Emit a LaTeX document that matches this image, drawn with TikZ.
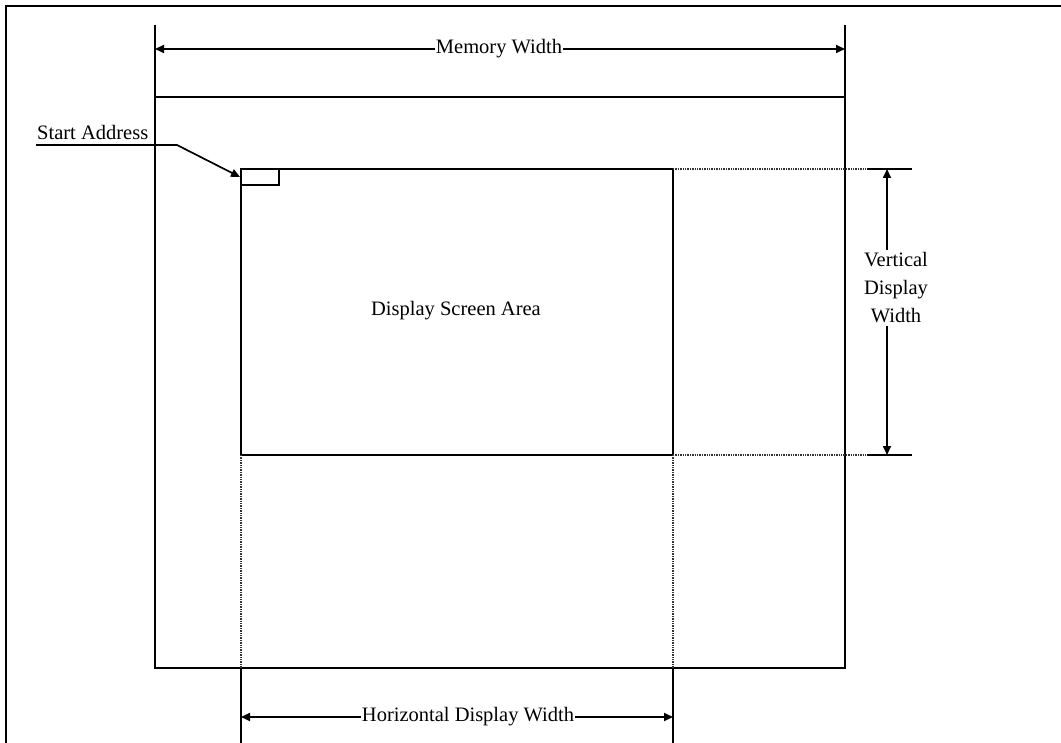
\documentclass[tikz,border=0pt]{standalone}
\usepackage{fontspec}
\setmainfont{Liberation Serif}
\usetikzlibrary{arrows.meta}
\tikzset{
  frameline/.style={line width=2.2pt},
  boxline/.style={line width=1.7pt},
  guide/.style={densely dotted,line width=1.4pt,draw=black!80},
  dimline/.style={{Triangle[length=9pt,width=8pt]}-{Triangle[length=9pt,width=8pt]},line width=1.7pt},
  leader/.style={-{Triangle[length=9pt,width=8pt]},line width=1.7pt},
  lbl/.style={font=\fontsize{20.5}{28}\selectfont,inner sep=2pt,fill=white,align=center}
}

\begin{document}
\begin{tikzpicture}[x=1pt,y=-1pt]
  \useasboundingbox (0,0) rectangle (1061,743);
  % page frame, top and left only
  \draw[frameline] (6,743) -- (6,6) -- (1061,6);

  % memory area with its extension lines
  \coordinate (memTL) at (155,97);
  \coordinate (memBR) at (845,668);
  \coordinate (memL) at (155,25);
  \coordinate (memR) at (845,25);
  \draw[boxline] (memTL) rectangle (memBR);
  \draw[boxline] (memL) -- (memTL);
  \draw[boxline] (memR) -- (memR |- memTL);
  \coordinate (mwL) at (155,49);
  \coordinate (mwR) at (845,49);
  \draw[dimline] (mwL) -- (mwR);
  \node[lbl,inner sep=1pt] (mw) at (499,49) {Memory Width};

  % display screen area
  \coordinate (dTL) at (241,169);
  \coordinate (dBR) at (673,455);
  \coordinate (dTR) at (673,169);
  \coordinate (dBL) at (241,455);
  \draw[boxline] (dTL) rectangle (dBR);
  \node[lbl,fill=none] (dsa) at (456,311) {Display Screen Area};

  % start address cell and leader
  \coordinate (cellBR) at (279,185);
  \draw[boxline] (dTL) rectangle (cellBR);
  \node[lbl,fill=none,anchor=base west,inner sep=0pt] (sa) at (37,140) {Start Address};
  \coordinate (saL) at (36,145);
  \coordinate (saK) at (177,145);
  \coordinate (saTip) at (240,177);
  \draw[leader] (saL) -- (saK) -- (saTip);

  % vertical extension lines and dimension
  \coordinate (vtS) at (867,169);
  \coordinate (vtE) at (912,169);
  \coordinate (vbS) at (867,455);
  \coordinate (vbE) at (912,455);
  \draw[guide] (dTR) -- (vtS);
  \draw[guide] (dBR) -- (vbS);
  \draw[boxline] (vtS) -- (vtE);
  \draw[boxline] (vbS) -- (vbE);
  \coordinate (vdT) at (887,169);
  \coordinate (vdB) at (887,455);
  \draw[dimline] (vdT) -- (vdB);
  \node[lbl,inner sep=3pt] (vdw) at (896,288) {Vertical\\Display\\Width};

  % horizontal extension lines and dimension
  \coordinate (hlM) at (241,668);
  \coordinate (hlE) at (241,743);
  \coordinate (hrM) at (673,668);
  \coordinate (hrE) at (673,743);
  \draw[guide] (dBL) -- (hlM);
  \draw[guide] (dBR) -- (hrM);
  \draw[boxline] (hlM) -- (hlE);
  \draw[boxline] (hrM) -- (hrE);
  \coordinate (hdL) at (241,717);
  \coordinate (hdR) at (673,717);
  \draw[dimline] (hdL) -- (hdR);
  \node[lbl,inner sep=1pt] (hdw) at (468,717) {Horizontal Display Width};
\end{tikzpicture}
\end{document}
